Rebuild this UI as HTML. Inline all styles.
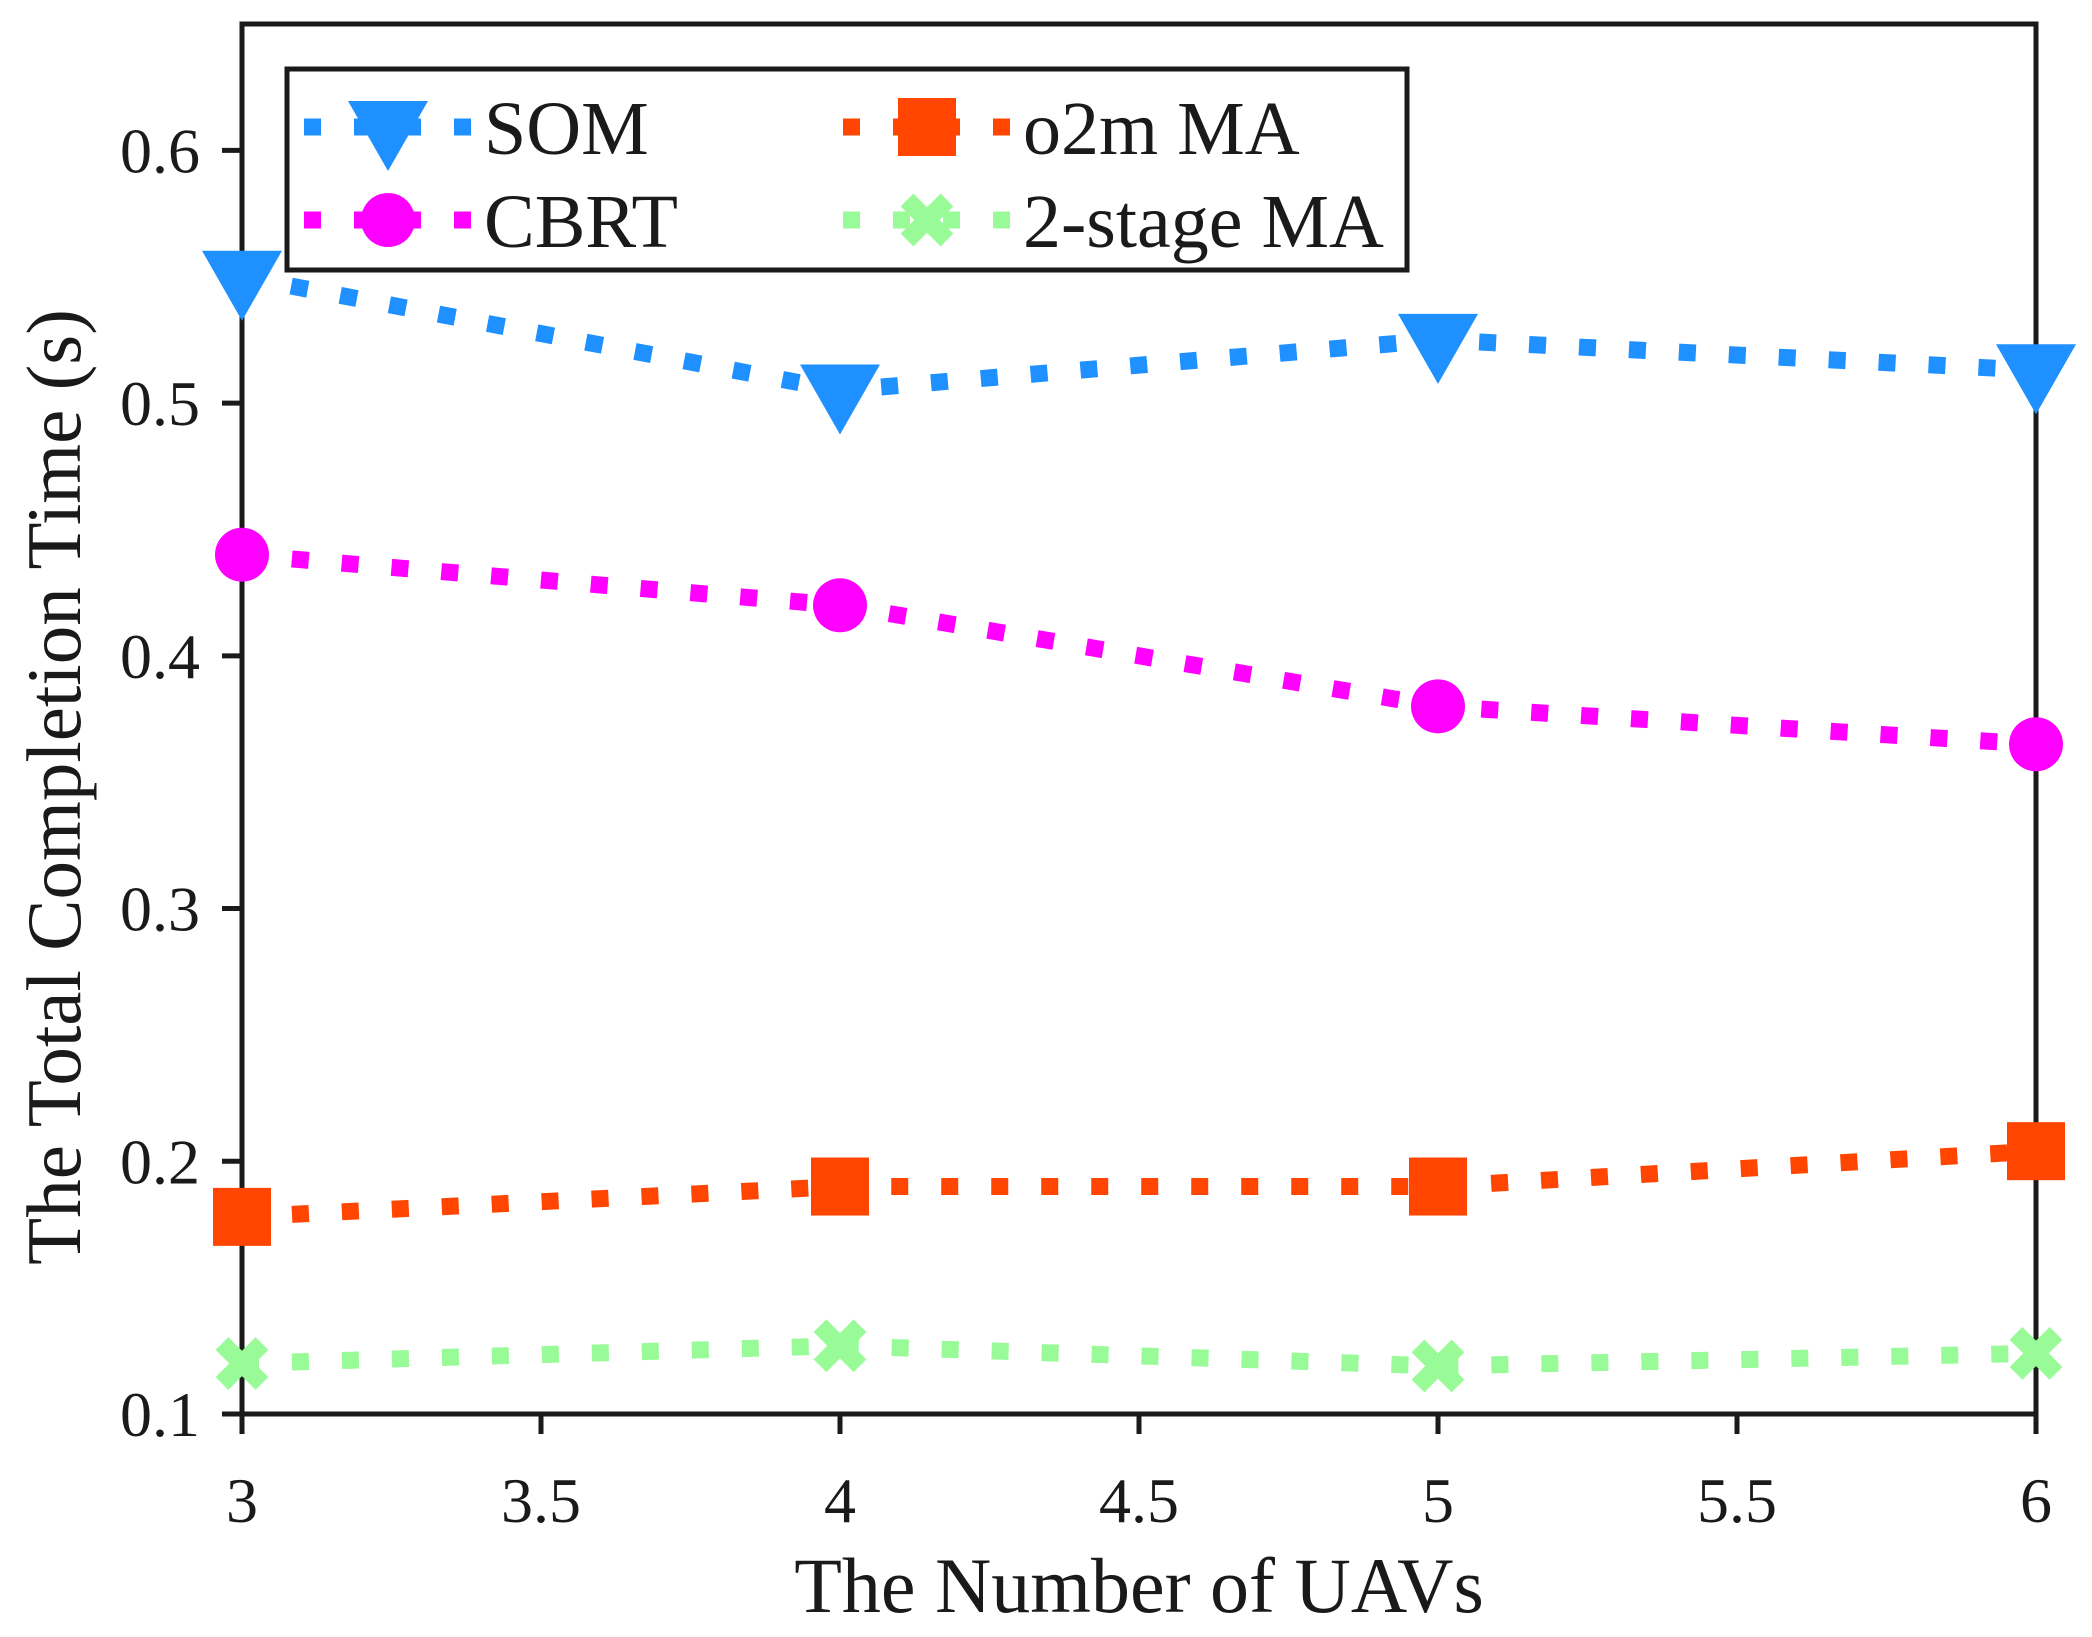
<!DOCTYPE html>
<html><head><meta charset="utf-8"><style>body{margin:0;background:#fff}svg{display:block}text{font-family:"Liberation Serif",serif;fill:#1a1a1a}</style></head>
<body>
<svg id="chart" width="2092" height="1637" viewBox="0 0 2092 1637" xmlns="http://www.w3.org/2000/svg">
<rect width="2092" height="1637" fill="#fff"/>
<g id="plot"></g>
<text x="1139" y="1612" font-size="78" text-anchor="middle">The Number of UAVs</text>
<text transform="translate(80,787) rotate(-90)" font-size="77" text-anchor="middle">The Total Completion Time (s)</text>
</svg>
<script>
const xValues=[3,4,5,6];
const som=[0.55,0.505,0.525,0.513];
const cbrt=[0.44,0.42,0.38,0.365];
const o2m=[0.178,0.19,0.19,0.204];
const twoStage=[0.12,0.127,0.119,0.124];
const xTicks=[3,3.5,4,4.5,5,5.5,6];
const yTicks=[0.1,0.2,0.3,0.4,0.5,0.6];
const X0=242,X1=2036,Y0=1414,Y1=24;
const xs=v=>X0+(v-3)/3*(X1-X0);
const ys=v=>Y0-(v-0.1)/0.55*(Y0-Y1);
const NS='http://www.w3.org/2000/svg';
const plot=document.getElementById('plot');
function mk(tag,attrs,parent){const e=document.createElementNS(NS,tag);for(const k in attrs)e.setAttribute(k,attrs[k]);(parent||plot).appendChild(e);return e;}
function marker(type,cx,cy,color,parent){
  let e;
  if(type==='tri'){e=mk('polygon',{points:`${cx-40},${cy-26} ${cx+40},${cy-26} ${cx},${cy+44}`,fill:color},parent);}
  else if(type==='circ'){e=mk('circle',{cx:cx,cy:cy,r:27,fill:color},parent);}
  else if(type==='sq'){e=mk('rect',{x:cx-29,y:cy-29,width:58,height:58,fill:color},parent);}
  else {e=mk('path',{d:`M${cx-20},${cy-20}L${cx+20},${cy+20}M${cx+20},${cy-20}L${cx-20},${cy+20}`,stroke:color,'stroke-width':18,fill:'none'},parent);}
  return e;
}
const series=[
 {name:'SOM',vals:som,color:'#1e90ff',m:'tri'},
 {name:'CBRT',vals:cbrt,color:'#ff00ff',m:'circ'},
 {name:'o2m MA',vals:o2m,color:'#ff4500',m:'sq'},
 {name:'2-stage MA',vals:twoStage,color:'#98fb98',m:'x'}
];
const box=mk('rect',{x:X0,y:Y1,width:X1-X0,height:Y0-Y1,fill:'none',stroke:'#1a1a1a','stroke-width':5});


xTicks.forEach(t=>{
  const l=mk('line',{x1:xs(t),x2:xs(t),y1:Y0,y2:Y0+20,stroke:'#1a1a1a','stroke-width':5});
  
  
  const tx=mk('text',{x:xs(t),y:1522,'font-size':64,'text-anchor':'middle'});
  tx.textContent=String(t);
  
  
});
yTicks.forEach(t=>{
  const l=mk('line',{x1:X0-20,x2:X0,y1:ys(t),y2:ys(t),stroke:'#1a1a1a','stroke-width':5});
  
  
  const tx=mk('text',{x:200,y:ys(t)+22,'font-size':64,'text-anchor':'end'});
  tx.textContent=t.toFixed(1);
  
  
});
series.forEach(s=>{
  const g=mk('g',{});
  
  
  const pts=xValues.map((x,i)=>xs(x)+','+ys(s.vals[i])).join(' ');
  const pl=mk('polyline',{points:pts,fill:'none',stroke:s.color,'stroke-width':17,'stroke-dasharray':'17 33'},g);
  
  
  xValues.forEach((x,i)=>{
    const m=marker(s.m,xs(x),ys(s.vals[i]),s.color,g);
    
    
  });
});
const lg=mk('g',{});


mk('rect',{x:287,y:69,width:1120,height:201,fill:'#fff',stroke:'#1a1a1a','stroke-width':5},lg);
const legPos=[[304,127],[843,127],[304,220],[843,220]];
const order=[0,2,1,3];
order.forEach((si,k)=>{
  const s=series[si];const [lx,ly]=legPos[k];
  const e=mk('g',{},lg);
  
  
  mk('line',{x1:lx,x2:lx+168,y1:ly,y2:ly,stroke:s.color,'stroke-width':17,'stroke-dasharray':'17 33'},e);
  marker(s.m,lx+84,ly,s.color,e);
  const t=mk('text',{x:lx+180,y:ly+27,'font-size':76},e);
  t.textContent=s.name;
});
</script>
</body></html>
